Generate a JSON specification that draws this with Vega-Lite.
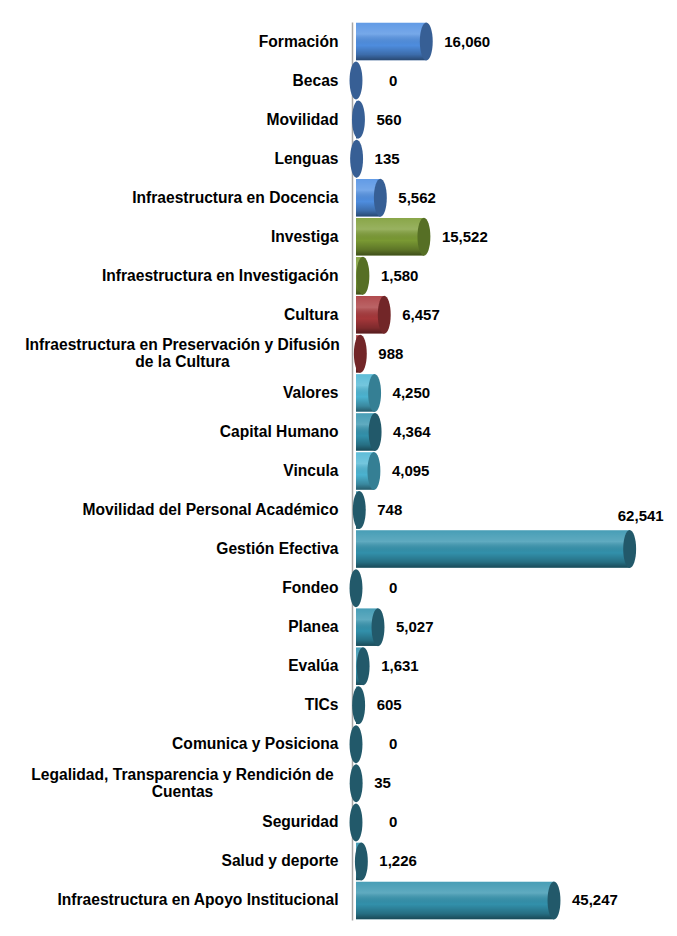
{
  "$schema": "https://vega.github.io/schema/vega-lite/v6.json",
  "autosize": {"type": "none"},
  "padding": {"left": 356, "top": 22, "right": 9, "bottom": 16},
  "width": 312,
  "height": 898,
  "background": "white",
  "config": {
    "view": {"stroke": null},
    "font": "Liberation Sans"
  },
  "data": {
    "values": [
      {"programa": "Formación", "valor": 16060, "eje": "Docencia"},
      {"programa": "Becas", "valor": 0, "eje": "Docencia"},
      {"programa": "Movilidad", "valor": 560, "eje": "Docencia"},
      {"programa": "Lenguas", "valor": 135, "eje": "Docencia"},
      {"programa": "Infraestructura en Docencia", "valor": 5562, "eje": "Docencia"},
      {"programa": "Investiga", "valor": 15522, "eje": "Investigación"},
      {"programa": "Infraestructura en Investigación", "valor": 1580, "eje": "Investigación"},
      {"programa": "Cultura", "valor": 6457, "eje": "Cultura"},
      {"programa": "Infraestructura en Preservación y Difusión de la Cultura", "valor": 988, "eje": "Cultura"},
      {"programa": "Valores", "valor": 4250, "eje": "Extensión"},
      {"programa": "Capital Humano", "valor": 4364, "eje": "Gestión"},
      {"programa": "Vincula", "valor": 4095, "eje": "Extensión"},
      {"programa": "Movilidad del Personal Académico", "valor": 748, "eje": "Gestión"},
      {"programa": "Gestión Efectiva", "valor": 62541, "eje": "Gestión"},
      {"programa": "Fondeo", "valor": 0, "eje": "Gestión"},
      {"programa": "Planea", "valor": 5027, "eje": "Gestión"},
      {"programa": "Evalúa", "valor": 1631, "eje": "Gestión"},
      {"programa": "TICs", "valor": 605, "eje": "Gestión"},
      {"programa": "Comunica y Posiciona", "valor": 0, "eje": "Gestión"},
      {"programa": "Legalidad, Transparencia y Rendición de Cuentas", "valor": 35, "eje": "Gestión"},
      {"programa": "Seguridad", "valor": 0, "eje": "Gestión"},
      {"programa": "Salud y deporte", "valor": 1226, "eje": "Gestión"},
      {"programa": "Infraestructura en Apoyo Institucional", "valor": 45247, "eje": "Gestión"}
    ]
  },
  "encoding": {
    "y": {
      "field": "programa",
      "type": "nominal",
      "sort": null,
      "scale": {"paddingInner": 0, "paddingOuter": 0},
      "axis": {
        "orient": "left",
        "title": null,
        "offset": 4,
        "domain": true,
        "domainColor": "#A6A6A6",
        "domainWidth": 1.5,
        "ticks": false,
        "tickSize": 0,
        "labelFont": "Liberation Sans",
        "labelFontWeight": "bold",
        "labelFontSize": 15.6,
        "labelColor": "#000000",
        "labelLimit": 0,
        "labelLineHeight": 17,
        "labelBaseline": "middle",
        "labelAlign": {"condition": {"test": "indexof(datum.value, 'Preservación') >= 0 || indexof(datum.value, 'Legalidad') >= 0", "value": "center"}, "value": "right"},
        "labelPadding": {"condition": {"test": "indexof(datum.value, 'Preservación') >= 0 || indexof(datum.value, 'Legalidad') >= 0", "value": 170}, "value": 14},
        "labelOffset": {"condition": {"test": "indexof(datum.value, 'Preservación') >= 0 || indexof(datum.value, 'Legalidad') >= 0", "value": -8.5}, "value": 0},
        "labelExpr": "datum.value == 'Infraestructura en Preservación y Difusión de la Cultura' ? ['Infraestructura en Preservación y Difusión', 'de la Cultura'] : datum.value == 'Legalidad, Transparencia y Rendición de Cuentas' ? ['Legalidad, Transparencia y Rendición de', 'Cuentas'] : datum.label"
      }
    }
  },
  "layer": [
    {
      "mark": {"type": "bar", "height": {"band": 0.96}},
      "encoding": {
        "x": {
          "field": "valor",
          "type": "quantitative",
          "scale": {"domain": [0, 71300], "nice": false, "zero": true},
          "axis": {"orient": "top", "title": null, "labels": false, "ticks": false, "grid": false, "domain": true, "domainColor": "#A6A6A6", "domainWidth": 1.5}
        },
        "color": {
          "field": "eje",
          "type": "nominal",
          "legend": null,
          "scale": {
            "domain": ["Docencia", "Investigación", "Cultura", "Extensión", "Gestión"],
            "range": ["#5090E3", "#7C9C34", "#A8383B", "#4DB6D4", "#3393AE"]
          }
        }
      }
    },
    {
      "mark": {
        "type": "bar",
        "height": {"band": 0.96},
        "color": {
          "gradient": "linear", "x1": 0, "y1": 0, "x2": 0, "y2": 1,
          "stops": [
            {"offset": 0, "color": "rgba(255,255,255,0.10)"},
            {"offset": 0.3, "color": "rgba(255,255,255,0.22)"},
            {"offset": 0.6, "color": "rgba(0,0,0,0.02)"},
            {"offset": 0.85, "color": "rgba(0,0,0,0.25)"},
            {"offset": 1, "color": "rgba(0,0,0,0.5)"}
          ]
        }
      },
      "encoding": {
        "x": {"field": "valor", "type": "quantitative", "axis": null}
      }
    },
    {
      "mark": {
        "type": "point",
        "filled": true,
        "opacity": 1,
        "size": 1444,
        "shape": "M0,-1 A0.34,1 0 1,1 0,1 A0.34,1 0 1,1 0,-1 Z"
      },
      "encoding": {
        "x": {"field": "valor", "type": "quantitative", "axis": null},
        "fill": {
          "field": "eje",
          "type": "nominal",
          "legend": null,
          "scale": {
            "domain": ["Docencia", "Investigación", "Cultura", "Extensión", "Gestión"],
            "range": ["#375F95", "#566F25", "#722628", "#357F94", "#22596A"]
          }
        }
      }
    },
    {
      "transform": [{"filter": "datum.valor > 0 && datum.valor < 60000"}],
      "mark": {"type": "text", "align": "left", "baseline": "middle", "dx": 18, "fontSize": 15, "fontWeight": "bold", "font": "Liberation Sans", "color": "#000000"},
      "encoding": {
        "x": {"field": "valor", "type": "quantitative", "axis": null},
        "text": {"field": "valor", "type": "quantitative", "format": ","}
      }
    },
    {
      "transform": [{"filter": "datum.valor == 0"}],
      "mark": {"type": "text", "align": "left", "baseline": "middle", "dx": 33, "fontSize": 15, "fontWeight": "bold", "font": "Liberation Sans", "color": "#000000"},
      "encoding": {
        "x": {"field": "valor", "type": "quantitative", "axis": null},
        "text": {"field": "valor", "type": "quantitative", "format": ","}
      }
    },
    {
      "transform": [{"filter": "datum.valor >= 60000"}],
      "mark": {"type": "text", "align": "right", "baseline": "middle", "dx": 34, "dy": -33, "fontSize": 15, "fontWeight": "bold", "font": "Liberation Sans", "color": "#000000"},
      "encoding": {
        "x": {"field": "valor", "type": "quantitative", "axis": null},
        "text": {"field": "valor", "type": "quantitative", "format": ","}
      }
    }
  ]
}
